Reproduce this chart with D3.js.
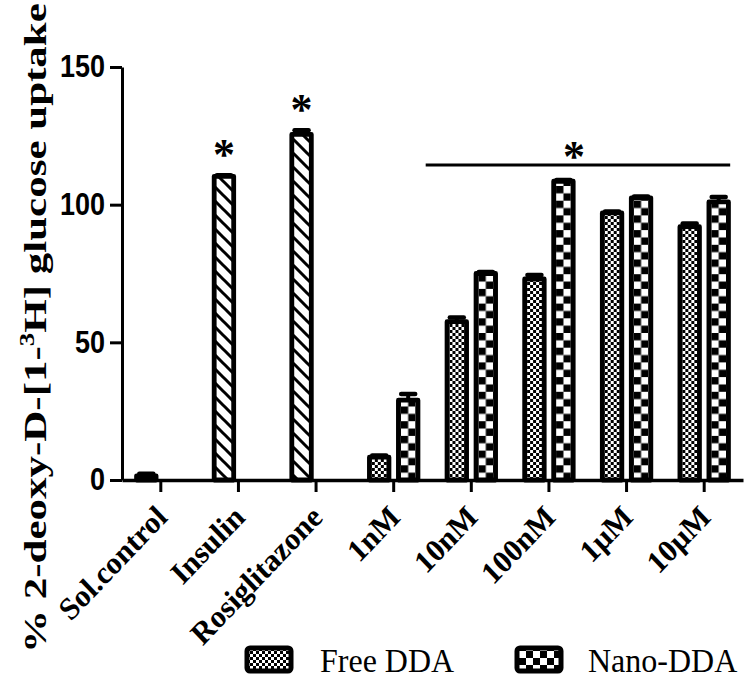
<!DOCTYPE html>
<html>
<head>
<meta charset="utf-8">
<script src="https://cdn.jsdelivr.net/npm/d3@7"></script>
<style>
  html, body { margin: 0; padding: 0; background: #fff; }
  svg { display: block; }
</style>
</head>
<body>
<script>
// ---------------- data ----------------
const categories = ["Sol.control", "Insulin", "Rosiglitazone", "1nM", "10nM", "100nM", "1µM", "10µM"];
const controlCats = ["Sol.control", "Insulin", "Rosiglitazone"];
const controlValues = [1.5, 110.3, 125.5];
const controlErrors = [0.8, 0.4, 1.5];
const controlStars = [false, true, true];
const doseCats = ["1nM", "10nM", "100nM", "1µM", "10µM"];
const freeValues = [8.3, 57.5, 73, 97, 92];
const freeErrors = [0.6, 1.5, 1.5, 0.5, 1.2];
const nanoValues = [29, 75, 108.5, 102.5, 101];
const nanoErrors = [2.2, 0.5, 0.5, 0.5, 1.8];
const yTicks = [0, 50, 100, 150];
const seriesNames = ["Free DDA", "Nano-DDA"];
const sigFrom = "1nM", sigTo = "10µM";

// ---------------- layout ----------------
const W = 750, H = 678;
const x0 = 122, x1 = 743, yTop = 67, yBase = 480;
const vStretch = 1.05;
const serif = "'Liberation Serif','Times New Roman',Times,serif";
const sans = "'Liberation Sans',Arial,Helvetica,sans-serif";

const svg = d3.select("body").append("svg").attr("width", W).attr("height", H);
const defs = svg.append("defs");

const x = d3.scaleBand().domain(categories).range([x0, x1]).paddingInner(0).paddingOuter(0);
const y = d3.scaleLinear().domain([0, 150]).range([yBase, yTop]);
const cx = c => x(c) + x.bandwidth() / 2;

const barOffset = 14.5, barW = 19.5, barStroke = 4.8;

// hatch pattern (controls)
const hatch = defs.append("pattern").attr("id", "hatch")
  .attr("patternUnits", "userSpaceOnUse").attr("width", 14).attr("height", 14);
hatch.append("rect").attr("width", 14).attr("height", 14).attr("fill", "#fff");
hatch.append("path").attr("d", "M-3,-3L17,17M-3,11L3,17M11,-3L17,3")
  .attr("stroke", "#000").attr("stroke-width", 3);

// fine checker (Free DDA)
function fineChecker(id, ox, oy) {
  const p = defs.append("pattern").attr("id", id).attr("patternUnits", "userSpaceOnUse")
    .attr("x", ox).attr("y", oy).attr("width", 6).attr("height", 6);
  p.append("rect").attr("width", 6).attr("height", 6).attr("fill", "#fff");
  p.append("rect").attr("width", 3).attr("height", 3).attr("fill", "#000");
  p.append("rect").attr("x", 3).attr("y", 3).attr("width", 3).attr("height", 3).attr("fill", "#000");
}
// coarse checker (Nano-DDA)
function coarseChecker(id, ox, oy, s) {
  const p = defs.append("pattern").attr("id", id).attr("patternUnits", "userSpaceOnUse")
    .attr("x", ox).attr("y", oy).attr("width", 2 * s).attr("height", 2 * s);
  p.append("rect").attr("width", 2 * s).attr("height", 2 * s).attr("fill", "#fff");
  p.append("rect").attr("width", s).attr("height", s).attr("fill", "#000");
  p.append("rect").attr("x", s).attr("y", s).attr("width", s).attr("height", s).attr("fill", "#000");
}

// bar records
const bars = [];
controlCats.forEach((c, i) => bars.push({ cat: c, cx: cx(c) - barOffset, v: controlValues[i], e: controlErrors[i], kind: "ctrl", star: controlStars[i] }));
doseCats.forEach((c, i) => {
  bars.push({ cat: c, cx: cx(c) - barOffset, v: freeValues[i], e: freeErrors[i], kind: "free" });
  bars.push({ cat: c, cx: cx(c) + barOffset, v: nanoValues[i], e: nanoErrors[i], kind: "nano" });
});
bars.forEach((b, i) => {
  const left = b.cx - barW / 2;
  if (b.kind === "free") { b.fill = "url(#free" + i + ")"; fineChecker("free" + i, left + barStroke / 2, yBase); }
  else if (b.kind === "nano") { b.fill = "url(#nano" + i + ")"; coarseChecker("nano" + i, left + barStroke / 2, yBase, (barW - barStroke) / 2); }
  else b.fill = "url(#hatch)";
});

const gBars = svg.append("g");
gBars.selectAll("rect.bar").data(bars).join("rect").attr("class", "bar")
  .attr("x", d => d.cx - barW / 2).attr("y", d => y(d.v))
  .attr("width", barW).attr("height", d => y(0) - y(d.v))
  .attr("fill", d => d.fill).attr("stroke", "#000").attr("stroke-width", barStroke)
  .attr("stroke-linejoin", "round");

// error bars (upper only)
gBars.selectAll("line.err").data(bars).join("line").attr("class", "err")
  .attr("x1", d => d.cx).attr("x2", d => d.cx)
  .attr("y1", d => y(d.v)).attr("y2", d => y(d.v + d.e))
  .attr("stroke", "#000").attr("stroke-width", 4);
gBars.selectAll("line.cap").data(bars).join("line").attr("class", "cap")
  .attr("x1", d => d.cx - 7).attr("x2", d => d.cx + 7)
  .attr("y1", d => y(d.v + d.e)).attr("y2", d => y(d.v + d.e))
  .attr("stroke", "#000").attr("stroke-width", 4.5).attr("stroke-linecap", "round");

// stars on controls
const starSize = 44;
gBars.selectAll("text.star").data(bars.filter(b => b.star)).join("text").attr("class", "star")
  .attr("x", d => d.cx).attr("y", d => y(d.v + d.e) - 27 + 0.47 * starSize)
  .attr("text-anchor", "middle").attr("font-family", serif).attr("font-weight", "bold")
  .attr("font-size", starSize).text("*");

// significance bar
const sx1 = cx(sigFrom) + 32, sx2 = cx(sigTo) + 26, sy = 165;
svg.append("line").attr("x1", sx1).attr("x2", sx2).attr("y1", sy).attr("y2", sy)
  .attr("stroke", "#000").attr("stroke-width", 3);
svg.append("text").attr("x", (sx1 + sx2) / 2 - 4).attr("y", 150 + 0.47 * starSize)
  .attr("text-anchor", "middle").attr("font-family", serif).attr("font-weight", "bold")
  .attr("font-size", starSize).text("*");

// ---------------- axes ----------------
const yAxis = svg.append("g").attr("transform", `translate(${x0},0)`)
  .call(d3.axisLeft(y).tickValues(yTicks).tickSize(12).tickSizeOuter(0).tickPadding(5));
yAxis.select(".domain").attr("stroke-width", 3);
yAxis.selectAll(".tick line").attr("stroke-width", 3);
yAxis.selectAll(".tick text").attr("font-family", sans).attr("font-weight", "bold")
  .attr("font-size", 27).attr("fill", "#000")
  .attr("x", 0).attr("transform", "translate(-17,0) scale(1,1.15)");

const xAxis = svg.append("g").attr("transform", `translate(0,${yBase})`)
  .call(d3.axisBottom(x).tickSize(12).tickSizeOuter(0).tickFormat(""));
xAxis.select(".domain").attr("stroke-width", 3.5);
xAxis.selectAll(".tick line").attr("stroke-width", 3);

svg.append("g").selectAll("text").data(categories).join("text")
  .attr("transform", d => `translate(${cx(d) + 8},519) scale(1,${vStretch}) rotate(-45)`)
  .attr("text-anchor", "end").attr("font-family", serif).attr("font-weight", "bold")
  .attr("font-size", 30).text(d => d);

// y label
const yl = svg.append("text").attr("font-family", serif).attr("font-weight", "bold").attr("font-size", 32);
yl.append("tspan").text("% 2-deoxy-D-[1-");
yl.append("tspan").attr("font-size", 20).attr("dy", -12).text("3");
yl.append("tspan").attr("dy", 12).text("H] glucose uptake");
const natural = yl.node().getComputedTextLength();
const targetLen = 650;
yl.attr("transform", `translate(46,653) rotate(-90) scale(${targetLen / natural},1)`);

// ---------------- legend ----------------
const legendItems = [
  { name: seriesNames[0], kind: "free", sx: 245, tx: 320 },
  { name: seriesNames[1], kind: "nano", sx: 515, tx: 588 }
];
fineChecker("legFree", 247, 648);
coarseChecker("legNano", 246, 651, 7);
const lg = svg.append("g");
lg.selectAll("rect").data(legendItems).join("rect")
  .attr("x", d => d.sx + 2).attr("y", 648).attr("width", 44).attr("height", 23).attr("rx", 3)
  .attr("fill", d => d.kind === "free" ? "url(#legFree)" : "url(#legNano)")
  .attr("stroke", "#000").attr("stroke-width", 5);
lg.selectAll("text").data(legendItems).join("text")
  .attr("transform", d => `translate(${d.tx},672) scale(1,1.08)`)
  .attr("font-family", serif).attr("font-size", 32)
  .attr("fill", "#000").text(d => d.name);
</script>
</body>
</html>
